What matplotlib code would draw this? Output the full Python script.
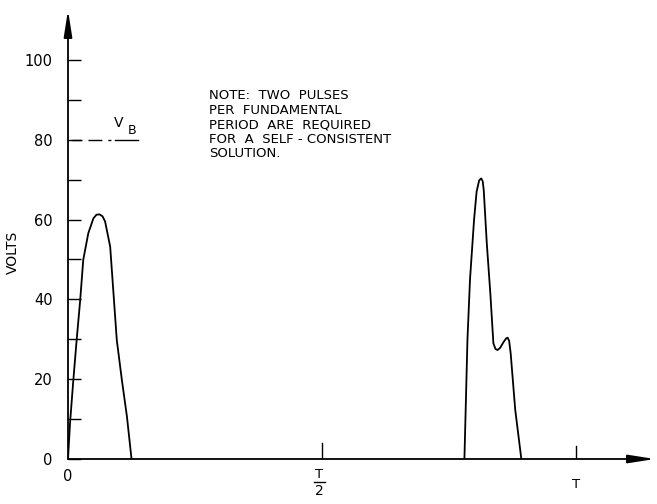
import matplotlib
matplotlib.use('Agg')
import matplotlib.pyplot as plt

# first pulse (time in units of T, volts)
t1 = [0.0, 0.004, 0.010, 0.017, 0.024, 0.030, 0.040, 0.050, 0.056, 0.062, 0.068,
      0.073, 0.083, 0.089, 0.096, 0.106, 0.116, 0.125]
v1 = [0.0, 9.0, 19.0, 29.8, 39.8, 49.9, 56.6, 60.3, 61.2, 61.3, 60.8,
      59.5, 53.2, 42.4, 29.8, 19.8, 10.6, 0.0]

# second pulse
t2 = [0.780, 0.783, 0.786, 0.791, 0.799, 0.804, 0.809, 0.813, 0.816, 0.818, 0.824,
      0.831, 0.837, 0.841, 0.845, 0.850, 0.857, 0.862, 0.865, 0.868, 0.871, 0.880, 0.892]
v2 = [0.0, 15.0, 30.0, 45.0, 60.0, 67.0, 69.8, 70.3, 69.6, 67.4, 54.1,
      41.5, 29.0, 27.6, 27.3, 27.8, 29.3, 30.2, 30.4, 29.6, 26.5, 12.3, 0.0]

v_b = 80
yticks = [0, 20, 40, 60, 80, 100]
note = ['NOTE:  TWO  PULSES', 'PER  FUNDAMENTAL', 'PERIOD  ARE  REQUIRED',
        'FOR  A  SELF - CONSISTENT', 'SOLUTION.']

fig = plt.figure(figsize=(6.57, 5.04), dpi=100)
ax = fig.add_axes([68/657, 45/504, 587/657, 449/504])
ax.set_xlim(0, 1.155)
ax.set_ylim(0, 112.5)
for s in ax.spines.values():
    s.set_visible(False)

ax.plot(t1, v1, color='black', lw=1.3)
ax.plot(t2, v2, color='black', lw=1.3)

# axes with arrows
ax.annotate('', xy=(1.0, 0), xytext=(0, 0), xycoords='axes fraction',
            arrowprops=dict(arrowstyle='-|>,head_length=1.6,head_width=0.25',
                            color='black', lw=1.3, shrinkA=0, shrinkB=0))
ax.annotate('', xy=(0, 1.0), xytext=(0, 0), xycoords='axes fraction',
            arrowprops=dict(arrowstyle='-|>,head_length=1.6,head_width=0.25',
                            color='black', lw=1.3, shrinkA=0, shrinkB=0))

# y ticks every 10, inward
ax.set_yticks(range(0, 101, 10))
ax.set_yticklabels([str(v) if v in yticks else '' for v in range(0, 101, 10)])
ax.tick_params(axis='y', direction='in', length=9, width=1.0, labelsize=10.5, pad=11)
ax.set_ylabel('VOLTS', fontsize=10)
ax.yaxis.set_label_coords(-0.082, 0.461)

# x ticks drawn upward from the axis
ax.set_xticks([])
ax.plot([0.5, 0.5], [0, 4.0], color='black', lw=1.0)
ax.plot([1.0, 1.0], [0, 3.2], color='black', lw=1.0)
ax.text(0, -4.5, '0', ha='center', va='center', fontsize=10.5)
ax.text(0.494, -3.8, 'T', ha='center', va='center', fontsize=9.5)
ax.plot([0.484, 0.505], [-5.8, -5.8], color='black', lw=1.0, clip_on=False)
ax.text(0.494, -8.0, '2', ha='center', va='center', fontsize=10)
ax.text(1.0, -6.5, 'T', ha='center', va='center', fontsize=9.5)

# V_B level
ax.plot([0.008, 0.092], [v_b, v_b], color='black', lw=1.0,
        linestyle=(0, (7.2, 4.3, 10, 4.3, 2.2, 2.9)))
ax.plot([0.092, 0.138], [v_b, v_b], color='black', lw=1.0)
ax.text(0.099, 84.3, 'V', fontsize=10, ha='center', va='center')
ax.text(0.126, 82.2, 'B', fontsize=9, ha='center', va='center')

for i, line in enumerate(note):
    ax.text(0.278, 91.0 - i * 3.63, line, fontsize=9.5, ha='left', va='center')

plt.savefig('out.png', dpi=100)
